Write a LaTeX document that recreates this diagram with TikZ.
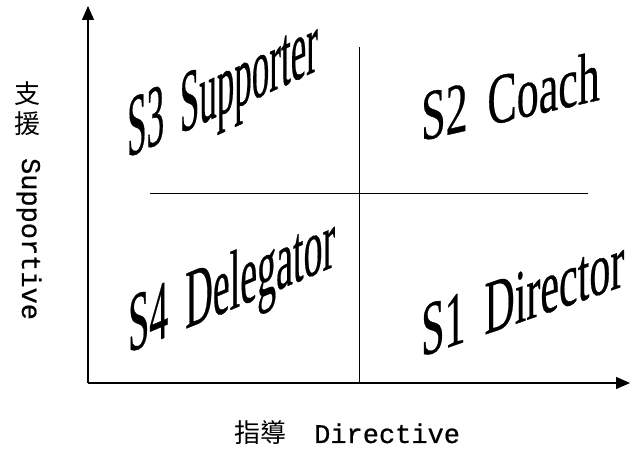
\documentclass[tikz,border=0pt]{standalone}
\usepackage{fontspec}
\setmainfont{Liberation Serif}[FakeBold=0.5]
\newfontfamily\monofont{Liberation Mono}[FakeBold=0.6]
\newfontfamily\cjk{Noto Sans CJK TC}
\usetikzlibrary{arrows.meta}
\tikzset{
  axisline/.style={line width=1.4pt, -{Triangle[length=14pt,width=12pt]}},
  divider/.style={line width=0.9pt},
  quadlabel/.style={anchor=base west, inner sep=0pt},
  axislabel/.style={inner sep=0pt}
}
\begin{document}
\begin{tikzpicture}[x=1pt,y=-1pt]
\useasboundingbox (0,0) rectangle (633,454);
\coordinate (O) at (88,383);
\coordinate (Ytip) at (88,6);
\coordinate (Xtip) at (630,383);
\coordinate (Vtop) at (359,47);
\coordinate (Vbot) at (359,383);
\coordinate (Hl) at (150,193);
\coordinate (Hr) at (588,193);
\draw[axisline] (O) -- (Ytip);
\draw[axisline] (O) -- (Xtip);
\draw[divider] (Vtop) -- (Vbot);
\draw[divider] (Hl) -- (Hr);
% quadrant labels
\node[quadlabel, cm={1,0.46,0,2.5,(0,0)}, font=\fontsize{35}{35}\selectfont] (s3) at (127,158) {S3\hspace{0.45em}Supporter};
\node[quadlabel, cm={1,0.23,0,1.63,(0,0)}, font=\fontsize{44}{44}\selectfont] (s2) at (421,141) {S2\hspace{0.45em}Coach};
\node[quadlabel, cm={1,0.42,0,2.2,(0,0)}, font=\fontsize{38}{38}\selectfont] (s4) at (128,353) {S4\hspace{0.45em}Delegator};
\node[quadlabel, cm={1,0.35,0,1.82,(0,0)}, font=\fontsize{42}{42}\selectfont] (s1) at (421,357) {S1\hspace{0.45em}Director};
% axis labels
\node[axislabel, font=\cjk\fontsize{26}{26}\selectfont] (zhi) at (27,94) {支};
\node[axislabel, font=\cjk\fontsize{26}{26}\selectfont] (yuan) at (27,124) {援};
\node[axislabel, rotate=-90, font=\monofont\fontsize{27}{27}\selectfont] (sup) at (29,239) {Supportive};
\node[axislabel, anchor=base west, font=\cjk\fontsize{26}{26}\selectfont] (zhidao) at (234,443) {指導};
\node[axislabel, anchor=base west, font=\monofont\fontsize{27}{27}\selectfont] (dir) at (314,443) {Directive};
\end{tikzpicture}
\end{document}
